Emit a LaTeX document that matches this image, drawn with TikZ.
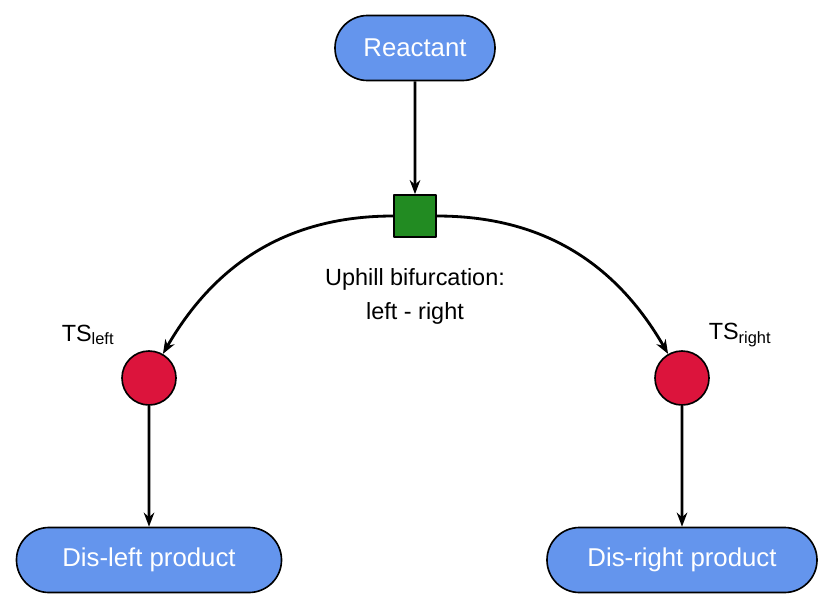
\documentclass[tikz,border=0pt]{standalone}
\usepackage{fontspec}
\setmainfont{Liberation Sans}
\usetikzlibrary{arrows.meta}
\usetikzlibrary{shapes.misc}
\definecolor{pillblue}{RGB}{100,149,237}
\definecolor{tsred}{RGB}{220,20,60}
\definecolor{sqgreen}{RGB}{34,139,34}
\begin{document}
\begin{tikzpicture}[x=0.03cm, y=-0.03cm, line join=round, >={Stealth[length=12pt,width=9pt]}]
    \tikzset{
        pill/.style={rounded rectangle, draw=black, line width=1.4pt, fill=pillblue, text=white,
            font=\fontsize{22}{26}\selectfont, minimum height=1.95cm, inner sep=0pt},
        tsdot/.style={circle, draw=black, line width=1.4pt, fill=tsred, minimum size=1.62cm, inner sep=0pt},
        bifsq/.style={rectangle, draw=black, line width=1.4pt, fill=sqgreen, minimum size=1.26cm, inner sep=0pt},
        flow/.style={->, line width=2.4pt},
        lbl/.style={font=\fontsize{20}{24}\selectfont, inner sep=0pt}
    }
    \useasboundingbox (0,0) rectangle (830,611);
    % nodes
    \node[pill, minimum width=4.8cm] (react) at (415,48) {Reactant};
    \node[bifsq] (bif) at (415,216) {};
    \node[tsdot] (tsl) at (149,378) {};
    \node[tsdot] (tsr) at (682,378) {};
    \node[pill, minimum width=7.95cm] (pl) at (149,560) {Dis-left product};
    \node[pill, minimum width=8.1cm] (pr) at (682,560) {Dis-right product};
    % labels
    \node[lbl] (bl1) at (415,279) {Uphill bifurcation:};
    \node[lbl] (bl2) at (415,313) {left - right};
    \node[lbl] (tll) at (88,335) {TS\textsubscript{left}};
    \node[lbl] (trl) at (740,335) {TS\textsubscript{right}};
    % connectors
    \draw[flow] (react) -- (bif);
    \draw[flow] (bif.west) to[out=180, in=60] (tsl.60);
    \draw[flow] (bif.east) to[out=0, in=120] (tsr.120);
    \draw[flow] (tsl) -- (pl);
    \draw[flow] (tsr) -- (pr);
\end{tikzpicture}
\end{document}
